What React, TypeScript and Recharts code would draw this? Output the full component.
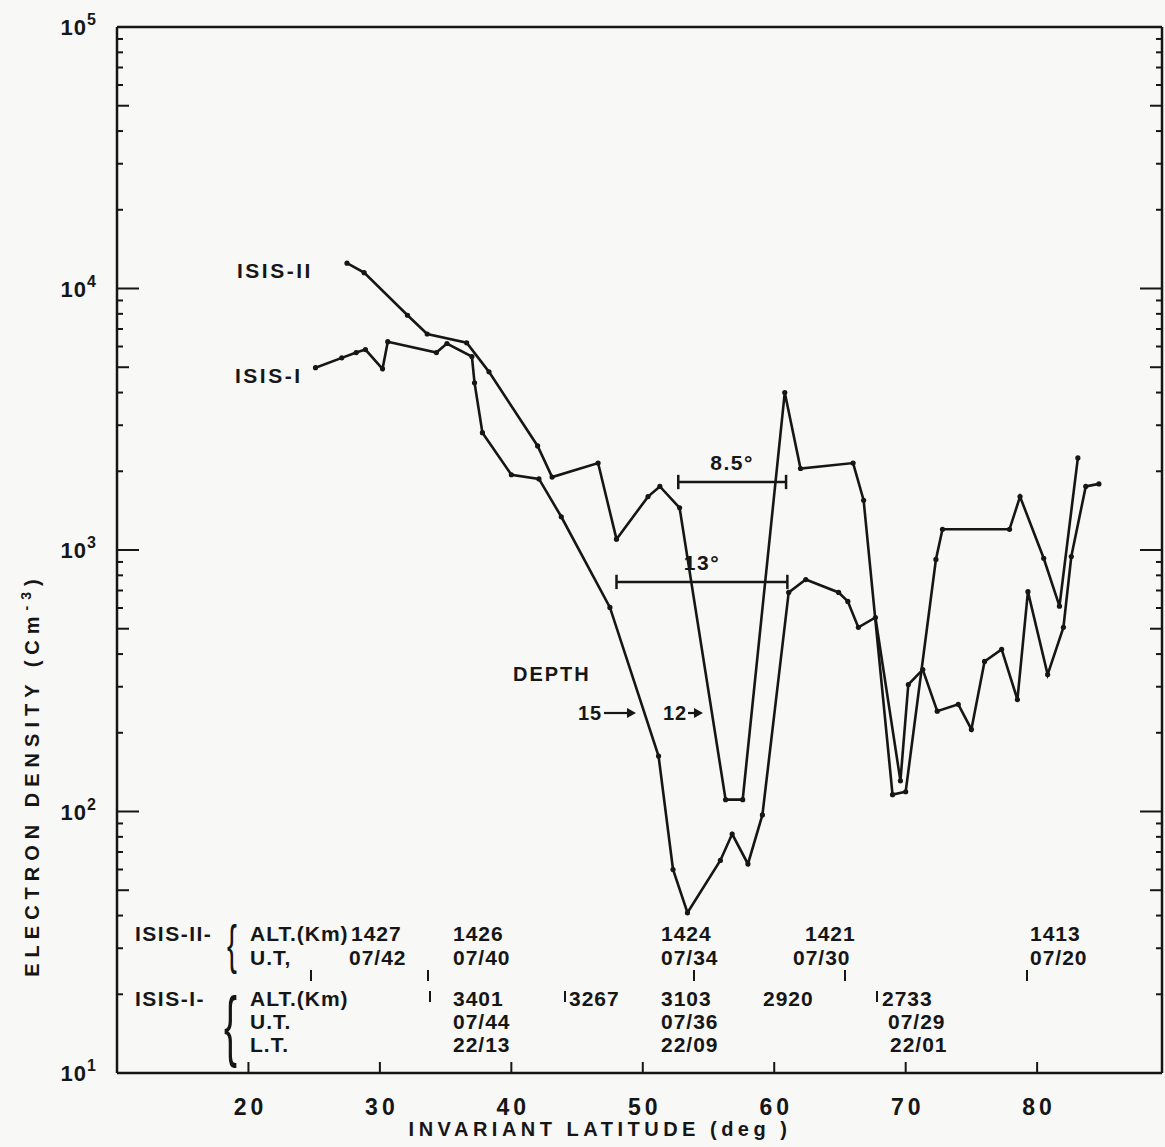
import React from "react";
import { LineChart, Line, XAxis, YAxis, ReferenceLine } from "recharts";

// ISIS-II pass (invariant latitude, electron density cm^-3)
const isis2Lat = [27.5, 28.8, 32.1, 33.6, 36.6, 38.3, 42.0, 43.1, 46.6, 48.0, 50.4, 51.3, 52.8, 56.3, 57.6, 60.8, 62.0, 66.0, 66.8, 69.0, 70.0, 72.3, 72.8, 77.9, 78.7, 80.5, 81.7, 83.1];
const isis2Ne = [12500, 11500, 7900, 6700, 6200, 4800, 2500, 1900, 2150, 1100, 1600, 1750, 1450, 111, 111, 4000, 2050, 2150, 1550, 116, 119, 920, 1200, 1200, 1600, 930, 610, 2250];

// ISIS-I pass
const isis1Lat = [25.1, 27.1, 28.2, 28.9, 30.2, 30.6, 34.3, 35.1, 37.0, 37.2, 37.8, 40.0, 42.1, 43.8, 47.5, 51.2, 52.3, 53.4, 55.9, 56.8, 58.0, 59.1, 61.1, 62.4, 64.9, 65.6, 66.4, 67.7, 69.6, 70.2, 71.3, 72.4, 74.0, 75.0, 76.0, 77.3, 78.5, 79.3, 80.8, 82.0, 82.6, 83.7, 84.7];
const isis1Ne = [4980, 5430, 5690, 5840, 4930, 6260, 5690, 6160, 5490, 4360, 2810, 1940, 1870, 1340, 603, 163, 60, 41, 65, 82, 63, 97, 688, 771, 688, 636, 506, 552, 131, 306, 349, 242, 257, 206, 375, 417, 268, 693, 334, 506, 944, 1750, 1790];

const latTicks = [20, 30, 40, 50, 60, 70, 80];
const decades = [10, 100, 1000, 10000, 100000];
const densTicks = [10, 20, 30, 40, 50, 60, 70, 80, 90, 100, 200, 300, 400, 500, 600, 700, 800, 900, 1000, 2000, 3000, 4000, 5000, 6000, 7000, 8000, 9000, 10000, 20000, 30000, 40000, 50000, 60000, 70000, 80000, 90000, 100000];

// trough width markers: [from lat, to lat, density, label]
const widthBars: [number, number, number, string][] = [
  [52.7, 60.9, 1820, "8.5°"],
  [48.0, 61.0, 755, "13°"],
];

const ink = "#161616";
const font = "'Liberation Sans', Arial, sans-serif";

const isis2 = isis2Lat.map((lat, i) => ({ lat, ne: isis2Ne[i] }));
const isis1 = isis1Lat.map((lat, i) => ({ lat, ne: isis1Ne[i] }));

function mantissa(v: number) {
  return Math.round(v / Math.pow(10, Math.floor(Math.log10(v) + 1e-9)));
}
function tickLen(v: number) {
  const m = mantissa(v);
  return m === 1 ? 22 : m === 5 ? 12 : 6;
}

function LeftTick(props: any) {
  const { x, y, payload } = props;
  const v = payload.value;
  const isDecade = decades.includes(v);
  return (
    <g>
      <line x1={x} x2={x + tickLen(v)} y1={y} y2={y} stroke={ink} strokeWidth={2} />
      {isDecade && (
        <text x={x - 20} y={y + 8} textAnchor="end" fontSize={22} fontWeight={600} fontFamily={font} fill={ink} letterSpacing={1}>
          10
          <tspan dy={-10} fontSize={16}>{Math.round(Math.log10(v))}</tspan>
        </text>
      )}
    </g>
  );
}

function RightTick(props: any) {
  const { x, y, payload } = props;
  return <line x1={x} x2={x - tickLen(payload.value)} y1={y} y2={y} stroke={ink} strokeWidth={2} />;
}

function BottomTick(props: any) {
  const { x, y, payload } = props;
  return (
    <g>
      <line x1={x} x2={x} y1={y} y2={y - 11} stroke={ink} strokeWidth={2} />
      <text x={x + 2} y={y + 42} textAnchor="middle" fontSize={23} fontWeight={600} fontFamily={font} fill={ink} letterSpacing={4}>
        {payload.value}
      </text>
    </g>
  );
}

function TopTick(props: any) {
  const { x, y } = props;
  return <line x1={x} x2={x} y1={y} y2={y + 10} stroke={ink} strokeWidth={2} />;
}

// annotation table below the curves
const rowsII = [
  { y: 941, items: [["ALT.(Km)", 250], ["1427", 351], ["1426", 453], ["1424", 661], ["1421", 805], ["1413", 1030]] },
  { y: 965, items: [["U.T,", 250], ["07/42", 349], ["07/40", 453], ["07/34", 661], ["07/30", 793], ["07/20", 1030]] },
];
const rowsI = [
  { y: 1006, items: [["ALT.(Km)", 250], ["3401", 453], ["3267", 569], ["3103", 661], ["2920", 763], ["2733", 882]] },
  { y: 1029, items: [["U.T.", 250], ["07/44", 453], ["07/36", 661], ["07/29", 888]] },
  { y: 1052, items: [["L.T.", 250], ["22/13", 453], ["22/09", 661], ["22/01", 890]] },
];
const marksII = [311, 428, 694, 845, 1027];
const marksI = [430, 565, 877];

function Arrow({ x1, x2, y }: { x1: number; x2: number; y: number }) {
  return (
    <g>
      <line x1={x1} x2={x2 - 6} y1={y} y2={y} stroke={ink} strokeWidth={2.2} />
      <polygon points={`${x2},${y} ${x2 - 9},${y - 5} ${x2 - 9},${y + 5}`} fill={ink} />
    </g>
  );
}

function Overlay() {
  const t = { fontFamily: font, fill: ink, fontSize: 21, fontWeight: 600 } as const;
  return (
    <svg width={1165} height={1147} style={{ position: "absolute", left: 0, top: 0, pointerEvents: "none" }}>
      <text x={237} y={278} {...t} letterSpacing={2.5}>ISIS-II</text>
      <text x={235} y={383} {...t} letterSpacing={2.5}>ISIS-I</text>

      <text x={513} y={681} {...t} fontSize={20} letterSpacing={2}>DEPTH</text>
      <text x={578} y={720} {...t} fontSize={20} letterSpacing={1}>15</text>
      <Arrow x1={604} x2={636} y={713} />
      <text x={663} y={720} {...t} fontSize={20} letterSpacing={1}>12</text>
      <Arrow x1={688} x2={703} y={713} />

      <text x={135} y={941} {...t} letterSpacing={1.5}>ISIS-II-</text>
      <text x={0} y={0} {...t} fontSize={54} fontWeight={400} transform="translate(227,963) scale(0.55,1)">{"{"}</text>
      <text x={135} y={1006} {...t} letterSpacing={1.5}>ISIS-I-</text>
      <text x={0} y={0} {...t} fontSize={78} fontWeight={400} transform="translate(224,1052) scale(0.5,1)">{"{"}</text>

      {[...rowsII, ...rowsI].map((r, i) =>
        r.items.map(([s, x], j) => (
          <text key={`${i}-${j}`} x={x as number} y={r.y} {...t} letterSpacing={1}>
            {s}
          </text>
        ))
      )}
      {marksII.map((x) => (
        <line key={x} x1={x} x2={x} y1={970} y2={981} stroke={ink} strokeWidth={2} />
      ))}
      {marksI.map((x) => (
        <line key={x} x1={x} x2={x} y1={991} y2={1002} stroke={ink} strokeWidth={2} />
      ))}

      <text x={600} y={1136} textAnchor="middle" {...t} fontSize={20} letterSpacing={4.5}>
        INVARIANT  LATITUDE (deg )
      </text>
      <text
        x={0}
        y={0}
        textAnchor="middle"
        {...t}
        fontSize={20}
        letterSpacing={6}
        transform="translate(39,775) rotate(-90)"
      >
        ELECTRON  DENSITY (Cm
        <tspan dy={-8} fontSize={14}>-3</tspan>
        <tspan dy={8}>)</tspan>
      </text>
    </svg>
  );
}

export default function App() {
  return (
    <div style={{ position: "absolute", left: 0, top: 0, width: 1165, height: 1147, background: "#f8f8f6" }}>
      <LineChart width={1165} height={1147} margin={{ top: 0, right: 0, bottom: 0, left: 0 }}>
        <XAxis
          xAxisId="bottom"
          type="number"
          dataKey="lat"
          domain={[10, 89.5]}
          ticks={latTicks}
          interval={0}
          allowDataOverflow
          height={74}
          tickSize={0}
          tickMargin={0}
          tickLine={false}
          axisLine={{ stroke: ink, strokeWidth: 2.5 }}
          tick={<BottomTick />}
        />
        <XAxis
          xAxisId="top"
          orientation="top"
          type="number"
          domain={[10, 89.5]}
          ticks={latTicks}
          interval={0}
          allowDataOverflow
          height={27}
          tickSize={0}
          tickMargin={0}
          tickLine={false}
          axisLine={{ stroke: ink, strokeWidth: 2.5 }}
          tick={<TopTick />}
        />
        <YAxis
          yAxisId="left"
          type="number"
          scale="log"
          domain={[10, 100000]}
          ticks={densTicks}
          interval={0}
          allowDataOverflow
          width={117}
          tickSize={0}
          tickMargin={0}
          tickLine={false}
          axisLine={{ stroke: ink, strokeWidth: 2.5 }}
          tick={<LeftTick />}
        />
        <YAxis
          yAxisId="right"
          orientation="right"
          type="number"
          scale="log"
          domain={[10, 100000]}
          ticks={densTicks}
          interval={0}
          allowDataOverflow
          width={3}
          tickSize={0}
          tickMargin={0}
          tickLine={false}
          axisLine={{ stroke: ink, strokeWidth: 2.5 }}
          tick={<RightTick />}
        />
        {widthBars.map(([a, b, y, label]) => (
          <ReferenceLine
            key={label}
            xAxisId="bottom"
            yAxisId="left"
            segment={[{ x: a, y }, { x: b, y }]}
            stroke={ink}
            strokeWidth={2.5}
            ifOverflow="visible"
            label={{ value: label, position: "top", fill: ink, fontSize: 21, fontWeight: 600, fontFamily: font, offset: 12, letterSpacing: 1.5 }}
          />
        ))}
        {widthBars.flatMap(([a, b, y, label]) =>
          [a, b].map((x) => (
            <ReferenceLine
              key={`${label}-${x}`}
              xAxisId="bottom"
              yAxisId="left"
              segment={[{ x, y: y * 1.065 }, { x, y: y / 1.065 }]}
              stroke={ink}
              strokeWidth={2.5}
              ifOverflow="visible"
            />
          ))
        )}
        <Line
          xAxisId="bottom"
          yAxisId="left"
          data={isis2}
          dataKey="ne"
          type="linear"
          stroke={ink}
          strokeWidth={2.6}
          dot={{ r: 2.6, fill: ink, stroke: "none" }}
          isAnimationActive={false}
        />
        <Line
          xAxisId="bottom"
          yAxisId="left"
          data={isis1}
          dataKey="ne"
          type="linear"
          stroke={ink}
          strokeWidth={2.6}
          dot={{ r: 2.6, fill: ink, stroke: "none" }}
          isAnimationActive={false}
        />
      </LineChart>
      <Overlay />
    </div>
  );
}
